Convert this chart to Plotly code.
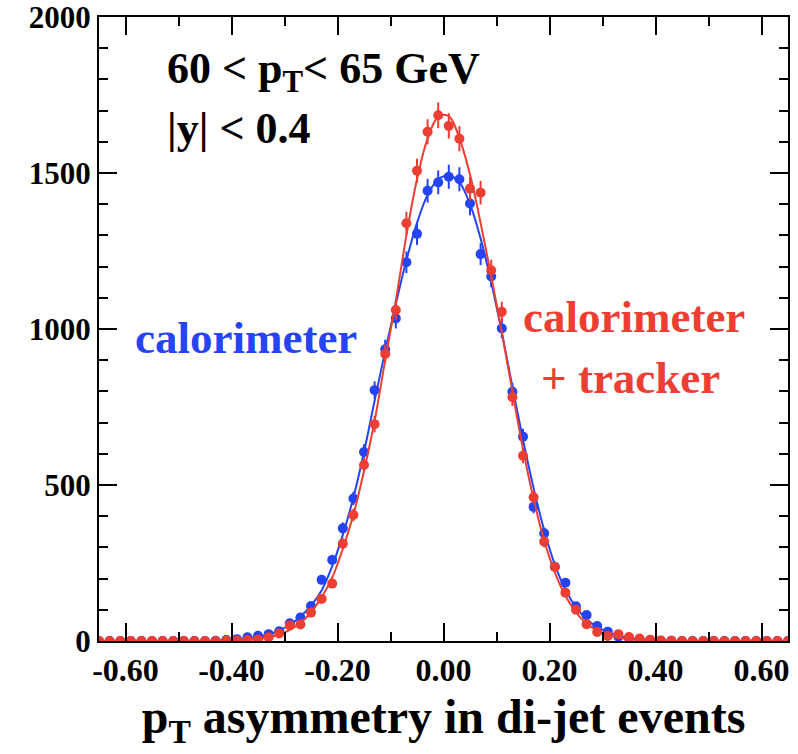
import plotly.graph_objects as go

# bin centres (pT asymmetry)
x_bins = [round(-0.65 + 0.02 * i, 2) for i in range(66)]

# calorimeter only (blue)
calo = [0, 0, 0, 0, 0, 0, 0, 0, 0, 0, 0,
        1, 3, 6, 12, 17, 22, 31, 57, 75, 112, 196, 260, 361, 457, 606, 804, 935, 1034,
        1214, 1305, 1443, 1470, 1488, 1480, 1402, 1240, 1168, 1002, 799, 655, 430, 345,
        238, 187, 111, 83, 48, 30, 14, 9, 5, 3, 1, 1, 0, 0, 0, 0, 0, 0, 0, 0, 0, 0, 0]

# calorimeter + tracker (red)
calo_trk = [0, 0, 0, 0, 0, 0, 0, 0, 0, 0, 0,
            0, 1, 2, 3, 5, 12, 24, 50, 53, 91, 135, 184, 312, 404, 564, 695, 920, 1061,
            1339, 1507, 1632, 1685, 1651, 1610, 1450, 1437, 1188, 1055, 781, 594, 461, 318,
            237, 155, 100, 54, 29, 16, 22, 13, 8, 4, 2, 1, 0, 0, 0, 0, 0, 0, 0, 0, 0, 0, 0]

# fitted curves
calo_fit = [0, 0, 0, 0, 0, 0, 0, 0, 0, 0, 0,
            1, 2, 4, 8, 13, 21, 34, 52, 78, 113, 162, 240, 340, 460, 605, 770, 930, 1080,
            1220, 1340, 1430, 1480, 1492, 1470, 1400, 1290, 1150, 990, 815, 645, 490, 355,
            245, 165, 108, 70, 45, 28, 17, 10, 6, 3, 2, 1, 0, 0, 0, 0, 0, 0, 0, 0, 0, 0, 0]
calo_trk_fit = [0, 0, 0, 0, 0, 0, 0, 0, 0, 0, 0,
                0, 1, 2, 4, 7, 12, 21, 36, 58, 92, 140, 203, 295, 405, 545, 705, 900, 1090,
                1300, 1480, 1610, 1680, 1682, 1612, 1495, 1340, 1170, 990, 800, 615, 455, 322,
                220, 145, 92, 56, 33, 19, 11, 6, 3, 2, 1, 0, 0, 0, 0, 0, 0, 0, 0, 0, 0, 0]

x_tickvals = [-0.6, -0.4, -0.2, 0.0, 0.2, 0.4, 0.6]
x_ticktext = ["-0.60", "-0.40", "-0.20", "0.00", "0.20", "0.40", "0.60"]
y_tickvals = [0, 500, 1000, 1500, 2000]
y_ticktext = ["0", "500", "1000", "1500", "2000"]

BLUE = "rgb(36,68,246)"
RED = "rgb(236,62,50)"
FONT = "Liberation Serif"

fig = go.Figure()
fig.add_trace(go.Scatter(x=x_bins, y=calo_fit, mode="lines", line=dict(color=BLUE, width=2, shape="spline"),
                         showlegend=False, hoverinfo="skip"))
fig.add_trace(go.Scatter(x=x_bins, y=calo, mode="markers", marker=dict(color=BLUE, size=10),
                         error_y=dict(type="sqrt", color=BLUE, thickness=2, width=0), showlegend=False))
fig.add_trace(go.Scatter(x=x_bins, y=calo_trk_fit, mode="lines", line=dict(color=RED, width=2, shape="spline"),
                         showlegend=False, hoverinfo="skip"))
fig.add_trace(go.Scatter(x=x_bins, y=calo_trk, mode="markers", marker=dict(color=RED, size=10),
                         error_y=dict(type="sqrt", color=RED, thickness=2, width=0), showlegend=False))

axis_common = dict(showline=True, linecolor="black", linewidth=2, mirror="ticks", ticks="inside",
                   tickcolor="black", tickwidth=2, ticklen=18, showgrid=False, zeroline=False,
                   automargin=False, ticklabeloverflow="allow")

fig.update_xaxes(range=[-0.65, 0.65], tickvals=x_tickvals, ticktext=x_ticktext,
                 minor=dict(ticks="inside", ticklen=9, dtick=0.1, tick0=0, tickcolor="black", tickwidth=2),
                 tickfont=dict(family=FONT, size=32, color="black", weight="bold"),
                 title=dict(text="p<sub>T</sub> asymmetry in di-jet events",
                            font=dict(family=FONT, size=48, color="black", weight="bold"), standoff=12),
                 **axis_common)
fig.update_yaxes(range=[0, 2000], tickvals=y_tickvals, ticktext=y_ticktext,
                 minor=dict(ticks="inside", ticklen=9, dtick=100, tick0=0, tickcolor="black", tickwidth=2),
                 tickfont=dict(family=FONT, size=31, color="black", weight="bold"),
                 **axis_common)

annots = [
    dict(text="60 < p<sub>T</sub>< 65 GeV", x=0.096, y=0.912, color="black", size=44),
    dict(text="|y| < 0.4", x=0.096, y=0.822, color="black", size=44),
    dict(text="calorimeter", x=0.049, y=0.486, color=BLUE, size=45),
    dict(text="calorimeter", x=0.612, y=0.52, color=RED, size=45),
    dict(text="+ tracker", x=0.638, y=0.422, color=RED, size=45),
]
for a in annots:
    fig.add_annotation(text=a["text"], x=a["x"], y=a["y"], xref="paper", yref="paper",
                       xanchor="left", yanchor="middle", showarrow=False,
                       font=dict(family=FONT, size=a["size"], color=a["color"], weight="bold"))

fig.update_layout(width=798, height=754, margin=dict(l=99, r=10, t=17, b=113),
                  plot_bgcolor="white", paper_bgcolor="white")

fig.write_html("out.html", config={"displayModeBar": False},
               post_script="document.body.style.margin='0';document.body.style.overflow='hidden';")
